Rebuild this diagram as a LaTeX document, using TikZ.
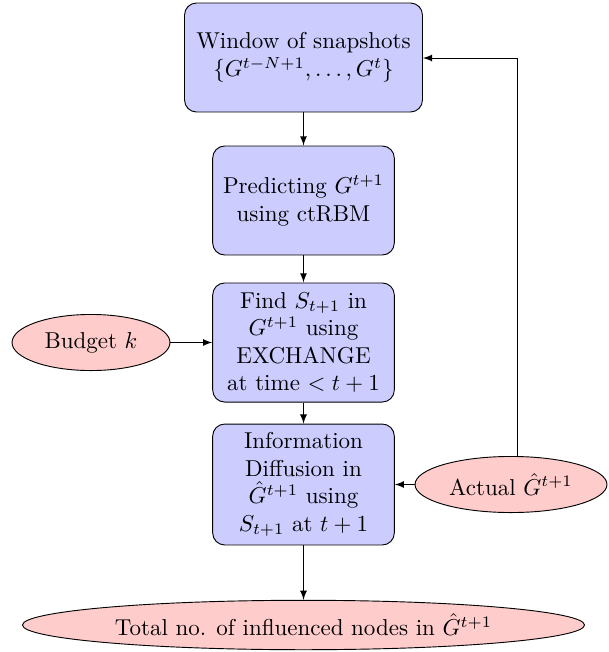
\documentclass[tikz,border=0pt]{standalone}
\usetikzlibrary{shapes.geometric,arrows}
\begin{document}
\begin{tikzpicture}[x=0.435pt,y=-0.435pt,
  stepbox/.style={draw, rectangle, rounded corners=5.2pt, fill=blue!20, align=center, inner sep=2pt},
  inbox/.style={draw, ellipse, fill=red!20, align=center, inner sep=1pt},
  flow/.style={draw, -latex}]
\useasboundingbox (0,0) rectangle (609,652);
% main column of processing steps
\node[stepbox, minimum width=103.5pt, minimum height=47.4pt] (win) at (303.5,57.5)
  {Window of snapshots\\ $\{G^{t-N+1},\ldots,G^{t}\}$};
\node[stepbox, minimum width=79pt, minimum height=47.4pt] (pred) at (303.5,200.5)
  {Predicting $G^{t+1}$\\ using ctRBM};
\node[stepbox, minimum width=79pt, minimum height=51.8pt] (find) at (303.5,342.5)
  {Find $S_{t+1}$ in\\ $G^{t+1}$ using\\ EXCHANGE\\ at time $<t+1$};
\node[stepbox, minimum width=79pt, minimum height=52.6pt] (diff) at (303.5,484.5)
  {Information\\ Diffusion in\\ $\hat{G}^{t+1}$ using\\ $S_{t+1}$ at $t+1$};
% inputs and result
\node[inbox, minimum width=68.7pt, minimum height=24.4pt] (budget) at (91,342.5) {Budget $k$};
\node[inbox, minimum width=83.5pt, minimum height=24.4pt] (actual) at (511,484.5) {Actual $\hat{G}^{t+1}$};
\node[inbox, minimum width=244.5pt, minimum height=21.5pt] (total) at (303.5,625)
  {Total no. of influenced nodes in $\hat{G}^{t+1}$};
\coordinate (riser) at (517,0);
\draw[flow] (win) -- (pred);
\draw[flow] (pred) -- (find);
\draw[flow] (find) -- (diff);
\draw[flow] (diff) -- (total);
\draw[flow] (budget) -- (find);
\draw[flow] (actual) -- (diff);
\draw[flow] (actual.north -| riser) |- (win.east |- 0,58);
\end{tikzpicture}
\end{document}
